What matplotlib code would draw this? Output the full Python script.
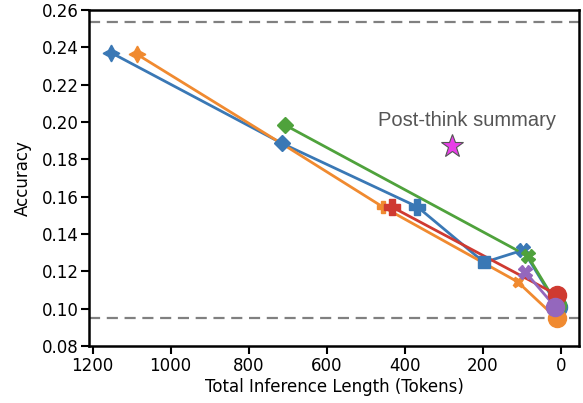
import matplotlib.pyplot as plt

# series values (tokens, accuracy)
blue_x = [1153, 715, 368, 197, 97, 8]
blue_y = [0.2372, 0.1886, 0.1546, 0.1248, 0.1314, 0.101]
orange_x = [1087, 712, 457, 111, 11]
orange_y = [0.2364, 0.188, 0.1546, 0.1144, 0.0948]
green_x = [707, 85, 9]
green_y = [0.1984, 0.1282, 0.102]
red_x = [434, 9]
red_y = [0.1546, 0.1073]
purple_x = [92, 15]
purple_y = [0.1198, 0.101]

blue_m = ['star4', 'D', 'P', 's', 'X', 'o']
orange_m = ['star4', None, 'P', 'X', 'o']   # diamond hidden under blue one
green_m = ['D', 'X', 'o']
red_m = ['P', 'o']
purple_m = ['X', 'o']

summary_x = [279]
summary_y = [0.187]
upper_ref = 0.2535
lower_ref = 0.0952

xticks = [1200, 1000, 800, 600, 400, 200, 0]
yticks = [0.08, 0.10, 0.12, 0.14, 0.16, 0.18, 0.20, 0.22, 0.24, 0.26]

colors = {
    'blue': '#3a78b5',
    'orange': '#f08a30',
    'green': '#4fa23c',
    'red': '#cf3a31',
    'purple': '#9467bd',
}

sizes = {'star4': 12, 'D': 8, 'P': 11, 's': 9, 'X': 10, 'o': 13}


def draw(ax, xs, ys, marks, color, small=()):
    ax.plot(xs, ys, color=color, lw=2, zorder=2)
    for x, y, m in zip(xs, ys, marks):
        if m is None:
            continue
        mk = (4, 1, 0) if m == 'star4' else m
        ms = sizes[m] * (0.75 if m in small else 1.0)
        ax.plot([x], [y], marker=mk, markersize=ms, color=color,
                markeredgecolor=color, linestyle='none', zorder=3)


fig = plt.figure(figsize=(5.83, 4.03), dpi=100)
ax = fig.add_axes([0.1535, 0.1414, 0.8395, 0.8336])

ax.axhline(upper_ref, color='#808080', lw=1.6, ls=(0, (5, 3)), zorder=1)
ax.axhline(lower_ref, color='#808080', lw=1.6, ls=(0, (5, 3)), zorder=1)

draw(ax, blue_x, blue_y, blue_m, colors['blue'])
draw(ax, orange_x, orange_y, orange_m, colors['orange'], small=('P', 'X'))
draw(ax, green_x, green_y, green_m, colors['green'])
draw(ax, red_x, red_y, red_m, colors['red'])
draw(ax, purple_x, purple_y, purple_m, colors['purple'])

ax.plot(summary_x, summary_y, marker='*', markersize=17, color='#e83ee8',
        markeredgecolor='#555555', markeredgewidth=0.8, linestyle='none', zorder=4)
ax.text(241, 0.2008, 'Post-think summary', ha='center', va='center',
        fontsize=14.5, color='#555555', family='Liberation Sans')

ax.set_xlim(1208, -46)
ax.set_ylim(0.08, 0.26)
ax.set_xticks(xticks)
ax.set_yticks(yticks)
ax.set_yticklabels([f'{v:.2f}' for v in yticks])
ax.set_xlabel('Total Inference Length (Tokens)', fontsize=12, labelpad=2)
ax.set_ylabel('Accuracy', fontsize=12, labelpad=7)
ax.tick_params(labelsize=12, length=6, width=1.5, pad=2)
for s in ax.spines.values():
    s.set_linewidth(1.8)

plt.savefig('out.png', dpi=100)
plt.close()
